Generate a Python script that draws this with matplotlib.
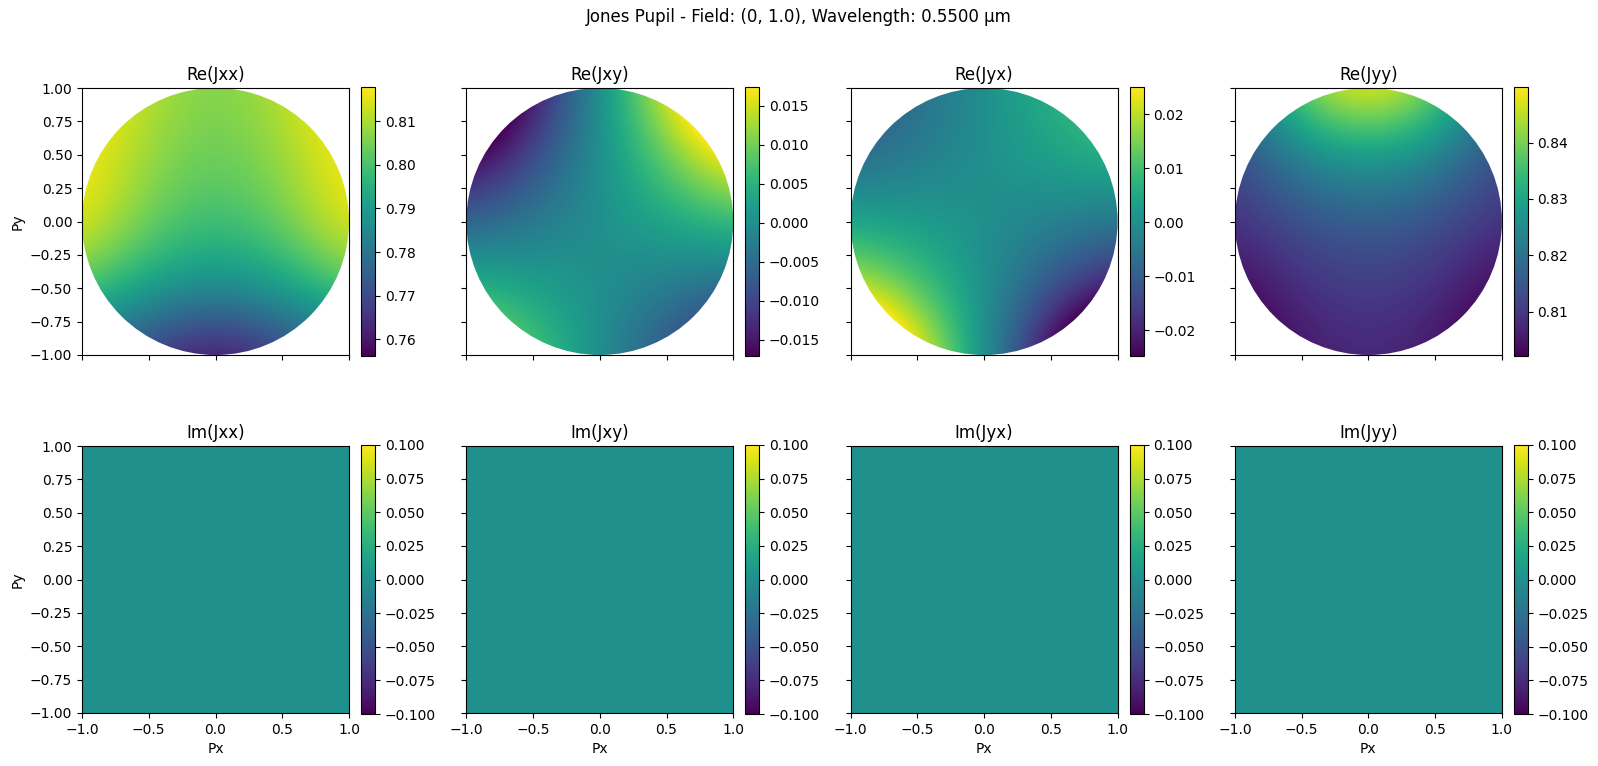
import numpy as np
import matplotlib
matplotlib.use("Agg")
import matplotlib.pyplot as plt
from matplotlib.patches import Circle

# pupil samples, rows from Py=+1 (top) to Py=-1,
# columns from Px=-1 to Px=+1 (nodes at -1, -0.5, 0, 0.5, 1)
re_jxx = [
    [0.822, 0.811, 0.805, 0.811, 0.822],
    [0.818, 0.808, 0.803, 0.808, 0.818],
    [0.817, 0.804, 0.798, 0.804, 0.817],
    [0.803, 0.791, 0.786, 0.791, 0.803],
    [0.775, 0.765, 0.756, 0.765, 0.775],
]
re_jxy = [
    [-0.0323, -0.0162, 0.0, 0.0162, 0.0323],
    [-0.0191, -0.0095, 0.0, 0.0095, 0.0191],
    [-0.0065, -0.00325, 0.0, 0.00325, 0.0065],
    [0.0054, 0.0027, 0.0, -0.0027, -0.0054],
    [0.0167, 0.0084, 0.0, -0.0084, -0.0167],
]
re_jyx = [
    [-0.0141, -0.0071, 0.0, 0.0071, 0.0141],
    [-0.0082, -0.0041, 0.0, 0.0041, 0.0082],
    [0.004, 0.0022, 0.0, -0.0025, -0.005],
    [0.021, 0.0115, 0.0, -0.0115, -0.021],
    [0.0533, 0.0267, 0.0, -0.0267, -0.0533],
]
re_jyy = [
    [0.818, 0.843, 0.853, 0.843, 0.818],
    [0.812, 0.824, 0.829, 0.824, 0.812],
    [0.809, 0.814, 0.816, 0.814, 0.809],
    [0.802, 0.809, 0.811, 0.809, 0.802],
    [0.798, 0.805, 0.808, 0.805, 0.798],
]
# imaginary parts are zero everywhere
im_jxx = [[0.0] * 5 for _ in range(5)]
im_jxy = [[0.0] * 5 for _ in range(5)]
im_jyx = [[0.0] * 5 for _ in range(5)]
im_jyy = [[0.0] * 5 for _ in range(5)]

re_vmin = [0.7562, -0.0171, -0.0248, 0.8021]
re_vmax = [0.8178, 0.0174, 0.0251, 0.8499]

names = ["Jxx", "Jxy", "Jyx", "Jyy"]
re_data = [re_jxx, re_jxy, re_jyx, re_jyy]
im_data = [im_jxx, im_jxy, im_jyx, im_jyy]
ticks = [-1.0, -0.5, 0.0, 0.5, 1.0]
yticks = [-1.0, -0.75, -0.5, -0.25, 0.0, 0.25, 0.5, 0.75, 1.0]

W, H = 1598, 766
fig = plt.figure(figsize=(W / 100, H / 100), dpi=100)
fig.suptitle("Jones Pupil - Field: (0, 1.0), Wavelength: 0.5500 µm", y=0.99)

left0, step, size = 82, 384.3, 267
row_tops = [88, 446]

for r in range(2):
    for c in range(4):
        x0 = left0 + step * c
        top = row_tops[r]
        ax = fig.add_axes([x0 / W, (H - top - size) / H, size / W, size / H])
        cax = fig.add_axes([(x0 + size + 12) / W, (H - top - size - 1) / H, 14 / W, (size + 2) / H])
        if r == 0:
            im = ax.imshow(np.array(re_data[c]), cmap="viridis", origin="upper",
                           extent=[-1.25, 1.25, -1.25, 1.25], interpolation="bicubic",
                           vmin=re_vmin[c], vmax=re_vmax[c], aspect="auto")
            circ = Circle((0, 0), 1.0, transform=ax.transData)
            im.set_clip_path(circ)
            ax.set_title(f"Re({names[c]})")
        else:
            im = ax.imshow(np.array(im_data[c]), cmap="viridis", origin="upper",
                           extent=[-1, 1, -1, 1], aspect="auto")
            ax.set_title(f"Im({names[c]})")
        ax.set_xlim(-1, 1)
        ax.set_ylim(-1, 1)
        ax.set_xticks(ticks)
        ax.set_yticks(yticks)
        if r == 0:
            ax.tick_params(labelbottom=False)
        else:
            ax.set_xlabel("Px")
        if c > 0:
            ax.tick_params(labelleft=False)
        else:
            ax.set_ylabel("Py")
        fig.colorbar(im, cax=cax)

fig.savefig("out.png", dpi=100)
